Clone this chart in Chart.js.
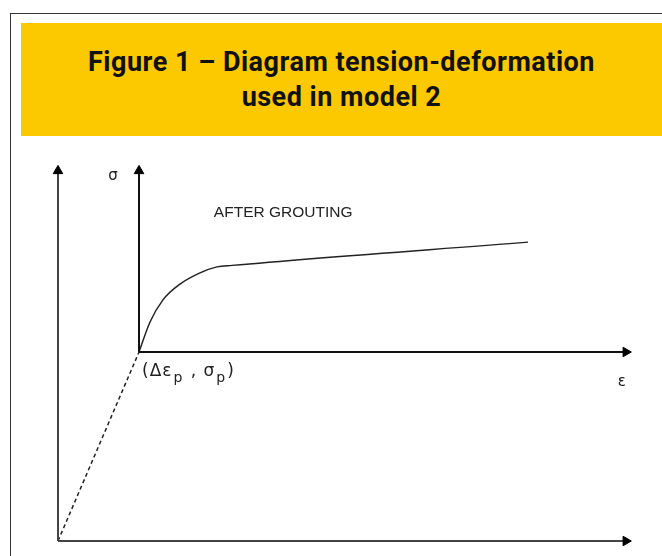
<!DOCTYPE html>
<html>
<head>
<meta charset="utf-8">
<script src="https://cdn.jsdelivr.net/npm/chart.js@4.4.1/dist/chart.umd.min.js"></script>
<style>
    html, body { margin: 0; padding: 0; background: #fff; }
    #pagina { position: relative; width: 662px; height: 556px; overflow: hidden; }
    #marco {
        position: absolute; left: 10px; top: 13px; width: 700px; height: 600px;
        border-left: 1px solid #333; border-top: 1px solid #333;
    }
    #cabecera {
        position: absolute; left: 21px; top: 23px; width: 660px; height: 113px;
        background: #fcc800;
    }
    #titulo {
        position: absolute; left: 0; top: 45px; width: 683px; text-align: center;
        font-family: Roboto, "Open Sans", sans-serif; font-weight: 700;
        font-size: 27px; line-height: 35px; letter-spacing: 0.5px; color: #111;
    }
    #contenedorGrafico { position: absolute; left: 0; top: 0; width: 662px; height: 556px; }
</style>
</head>
<body>
<div id="pagina">
    <div id="marco"></div>
    <div id="cabecera"></div>
    <div id="titulo">Figure 1 – Diagram tension-deformation<br>used in model 2</div>
    <div id="contenedorGrafico"><canvas id="graficoTension"></canvas></div>
</div>

<script>
// ===================================== Datos leídos del diagrama ==================
// eje exterior (origen 0,0) y eje desplazado en (Δεp, σp)
var ejeExteriorY = [{ x: 0, y: 0 }, { x: 0, y: 9.87 }];
var ejeExteriorX = [{ x: 0, y: 0 }, { x: 9.91, y: 0 }];
var ejeInteriorY = [{ x: 1.414, y: 5.04 }, { x: 1.414, y: 9.87 }];
var ejeInteriorX = [{ x: 1.414, y: 5.04 }, { x: 9.91, y: 5.04 }];

// tramo elástico (punteado) hasta el punto (Δεp, σp)
var tramoElastico = [{ x: 0, y: 0 }, { x: 1.414, y: 5.04 }];

// curva después de la inyección
var curvaEps = [1.414, 1.606, 1.832, 2.129, 2.478, 2.775, 3.037, 8.202];
var curvaSigma = [5.04, 5.84, 6.43, 6.85, 7.15, 7.31, 7.35, 7.97];
var curvaDespues = curvaEps.map((e, i) => ({ x: e, y: curvaSigma[i] }));

var ESCALA_MAX = 10;



// ===================================== Punta de flecha solo en el último punto ==================
function flecha(n, rotacion) {
    return {
        pointStyle: 'triangle',
        pointRadius: ctx => ctx.dataIndex === n - 1 ? 5.5 : 0,
        pointRotation: rotacion,
        pointBackgroundColor: '#000',
        pointBorderColor: '#000',
        pointBorderWidth: 1
    };
}



// ===================================== Textos del diagrama ==================
var textosDiagrama = {
    id: 'textosDiagrama',
    afterDatasetsDraw(chart) {
        const ctx = chart.ctx;
        const sx = chart.scales.x, sy = chart.scales.y;
        ctx.save();
        ctx.fillStyle = '#222';
        ctx.textBaseline = 'middle';

        ctx.font = '15px "DejaVu Sans"';
        ctx.textAlign = 'center';
        ctx.fillText('σ', sx.getPixelForValue(0.96), sy.getPixelForValue(9.73));
        ctx.fillText('ε', sx.getPixelForValue(9.84), sy.getPixelForValue(4.24));

        ctx.textAlign = 'left';
        ctx.font = '15.5px "Liberation Sans"';
        ctx.fillText('AFTER GROUTING', sx.getPixelForValue(2.72), sy.getPixelForValue(8.75));

        // (Δεp , σp) con subíndices
        let px = sx.getPixelForValue(1.466);
        const py = sy.getPixelForValue(4.51);
        const partes = [['(Δε', false], ['p', true], [' , σ', false], ['p', true], [')', false]];
        ctx.letterSpacing = '1px';
        partes.forEach(p => {
            ctx.font = p[1] ? '14px "DejaVu Sans"' : '17px "DejaVu Sans"';
            ctx.fillText(p[0], px, p[1] ? py + 6 : py);
            px += ctx.measureText(p[0]).width + 1;
        });
        ctx.restore();
    }
};



// ===================================== Gráfico =========================
var chartTension = new Chart(document.getElementById('graficoTension'), {
    type: 'scatter',
    data: {
        datasets: [
            Object.assign({ data: ejeExteriorY, showLine: true, borderColor: '#444', borderWidth: 2 }, flecha(2, 0)),
            Object.assign({ data: ejeExteriorX, showLine: true, borderColor: '#444', borderWidth: 2 }, flecha(2, 90)),
            Object.assign({ data: ejeInteriorY, showLine: true, borderColor: '#111', borderWidth: 2 }, flecha(2, 0)),
            Object.assign({ data: ejeInteriorX, showLine: true, borderColor: '#111', borderWidth: 2 }, flecha(2, 90)),
            {
                data: tramoElastico, showLine: true, borderColor: '#222', borderWidth: 1.5,
                borderDash: [4, 3], pointRadius: 0
            },
            {
                data: curvaDespues, showLine: true, borderColor: '#222', borderWidth: 1.5,
                cubicInterpolationMode: 'monotone', pointRadius: 0
            }
        ]
    },
    options: {
        responsive: true,
        maintainAspectRatio: false,
        animation: false,
        clip: false,
        layout: { padding: { left: 58, right: 31, top: 166, bottom: 15 } },
        plugins: { legend: { display: false }, tooltip: { enabled: false } },
        scales: {
            x: { type: 'linear', min: 0, max: ESCALA_MAX, display: false },
            y: { type: 'linear', min: 0, max: ESCALA_MAX, display: false }
        }
    },
    plugins: [textosDiagrama]
});
</script>
</body>
</html>
